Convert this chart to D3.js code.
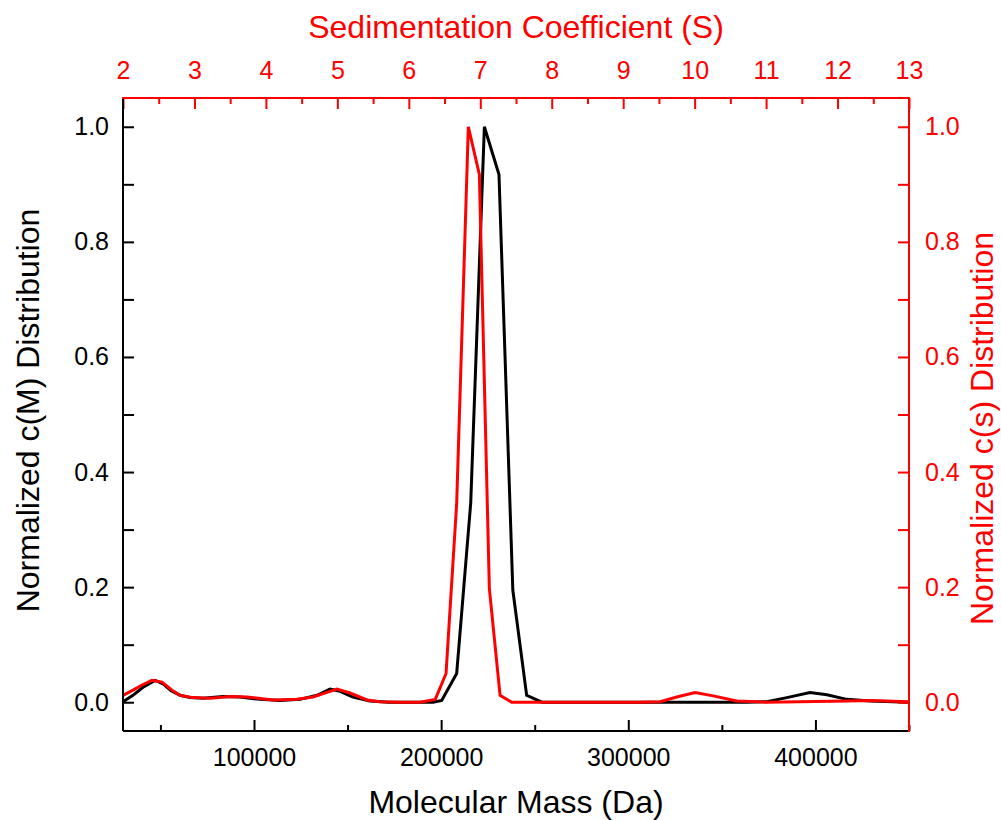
<!DOCTYPE html>
<html>
<head>
<meta charset="utf-8">
<script src="https://cdn.jsdelivr.net/npm/d3@7"></script>
<style>
  html, body { margin: 0; padding: 0; background: #fff; }
  svg { display: block; font-family: "Liberation Sans", Arial, sans-serif; }
</style>
</head>
<body>
<div id="chart"></div>
<script>
// c(M): molecular mass (Da) vs normalized distribution
const massValues = [30000, 35300, 40700, 47100, 51400, 55700, 60500, 65800, 72800, 83400, 92500, 103200,
  113900, 124600, 133700, 140600, 146000, 152900, 162000, 172000, 185000, 195700, 200300, 208300,
  215800, 223100, 230900, 238300, 245700, 253800, 270000, 300000, 330000, 363300, 374000, 384700,
  397100, 406100, 416800, 429200, 449500]
const cmValues = [0.001, 0.012, 0.026, 0.038, 0.032, 0.020, 0.012, 0.008, 0.007, 0.010, 0.009, 0.005,
  0.003, 0.005, 0.012, 0.023, 0.019, 0.009, 0.002, 0.000, 0.000, 0.000, 0.003, 0.050,
  0.346, 1.000, 0.917, 0.195, 0.012, 0.000, 0.000, 0.000, 0.000, 0.000, 0.001, 0.008,
  0.017, 0.013, 0.005, 0.002, 0.000]

// c(s): sedimentation coefficient (S) vs normalized distribution
const sValues = [2.0, 2.14, 2.266, 2.406, 2.546, 2.686, 2.798, 2.98, 3.218, 3.498, 3.736, 4.1,
  4.435, 4.659, 4.855, 4.995, 5.177, 5.415, 5.597, 5.877, 6.157, 6.37, 6.521, 6.67,
  6.833, 6.987, 7.127, 7.277, 7.44, 7.8, 8.5, 9.2, 9.516, 9.75, 10.006, 10.26,
  10.59, 11.01, 12.13, 12.455, 12.99]
const csValues = [0.012, 0.021, 0.030, 0.038, 0.035, 0.021, 0.012, 0.008, 0.007, 0.010, 0.009, 0.004,
  0.005, 0.009, 0.017, 0.023, 0.016, 0.004, 0.001, 0.000, 0.000, 0.005, 0.050, 0.346,
  1.000, 0.917, 0.198, 0.012, 0.000, 0.000, 0.000, 0.000, 0.001, 0.009, 0.017, 0.011,
  0.002, 0.000, 0.002, 0.003, 0.001]

const massTicks = [100000, 200000, 300000, 400000]
const massMinorTicks = [50000, 150000, 250000, 350000, 450000]
const sTicks = [2, 3, 4, 5, 6, 7, 8, 9, 10, 11, 12, 13]
const sMinorTicks = [2.5, 3.5, 4.5, 5.5, 6.5, 7.5, 8.5, 9.5, 10.5, 11.5, 12.5]
const yTicks = [0, 0.2, 0.4, 0.6, 0.8, 1.0]
const yMinorTicks = [0.1, 0.3, 0.5, 0.7, 0.9]

const width = 1001, height = 820
const margin = { top: 98, right: 92, bottom: 89, left: 123 }
const red = '#ff0000'
const titleSize = 32

const xMass = d3.scaleLinear().domain([30000, 450000]).range([margin.left, width - margin.right])
const xS = d3.scaleLinear().domain([2, 13]).range([margin.left, width - margin.right])
const y = d3.scaleLinear().domain([-0.05, 1.05]).range([height - margin.bottom, margin.top])

const plotBottom = height - margin.bottom
const plotTop = margin.top
const plotLeft = margin.left
const plotRight = width - margin.right

const svg = d3.select('#chart').append('svg')
    .attr('width', width)
    .attr('height', height)

// Data lines
const blackLine = d3.line()
    .x((d, i) => xMass(massValues[i]))
    .y(d => y(d))
const redLine = d3.line()
    .x((d, i) => xS(sValues[i]))
    .y(d => y(d))

svg.append('path')
    .datum(cmValues)
    .attr('d', blackLine)
    .attr('fill', 'none')
    .attr('stroke', '#000')
    .attr('stroke-width', 3)

svg.append('path')
    .datum(csValues)
    .attr('d', redLine)
    .attr('fill', 'none')
    .attr('stroke', red)
    .attr('stroke-width', 3)

// Axes (ticks pointing inward)
function styleAxis(g, color, fontSize) {
    g.select('.domain').remove()
    g.selectAll('line').attr('stroke', color).attr('stroke-width', 2)
    g.selectAll('text').attr('fill', color).attr('font-size', fontSize)
}

svg.append('g')
    .attr('transform', `translate(0,${plotBottom})`)
    .call(d3.axisBottom(xMass).tickValues(massMinorTicks).tickSize(-6).tickFormat(''))
    .call(g => styleAxis(g, '#000', 25))
svg.append('g')
    .attr('transform', `translate(0,${plotBottom})`)
    .call(d3.axisBottom(xMass).tickValues(massTicks).tickSize(-11).tickPadding(17).tickFormat(d3.format('d')))
    .call(g => styleAxis(g, '#000', 25))

svg.append('g')
    .attr('transform', `translate(0,${plotTop})`)
    .call(d3.axisTop(xS).tickValues(sMinorTicks).tickSize(-6).tickFormat(''))
    .call(g => styleAxis(g, red, 25))
svg.append('g')
    .attr('transform', `translate(0,${plotTop})`)
    .call(d3.axisTop(xS).tickValues(sTicks).tickSize(-11).tickPadding(19).tickFormat(d3.format('d')))
    .call(g => styleAxis(g, red, 25))

svg.append('g')
    .attr('transform', `translate(${plotLeft},0)`)
    .call(d3.axisLeft(y).tickValues(yMinorTicks).tickSize(-11).tickFormat(''))
    .call(g => styleAxis(g, '#000', 25))
svg.append('g')
    .attr('transform', `translate(${plotLeft},0)`)
    .call(d3.axisLeft(y).tickValues(yTicks).tickSize(-11).tickPadding(14).tickFormat(d3.format('.1f')))
    .call(g => styleAxis(g, '#000', 25))

svg.append('g')
    .attr('transform', `translate(${plotRight},0)`)
    .call(d3.axisRight(y).tickValues(yMinorTicks).tickSize(-11).tickFormat(''))
    .call(g => styleAxis(g, red, 25))
svg.append('g')
    .attr('transform', `translate(${plotRight},0)`)
    .call(d3.axisRight(y).tickValues(yTicks).tickSize(-11).tickPadding(16).tickFormat(d3.format('.1f')))
    .call(g => styleAxis(g, red, 25))

// Frame lines
svg.append('line').attr('x1', plotLeft).attr('x2', plotRight).attr('y1', plotBottom).attr('y2', plotBottom)
    .attr('stroke', '#000').attr('stroke-width', 2)
svg.append('line').attr('x1', plotLeft).attr('x2', plotLeft).attr('y1', plotTop).attr('y2', plotBottom)
    .attr('stroke', '#000').attr('stroke-width', 2)
svg.append('line').attr('x1', plotLeft - 1).attr('x2', plotRight).attr('y1', plotTop).attr('y2', plotTop)
    .attr('stroke', red).attr('stroke-width', 2)
svg.append('line').attr('x1', plotRight).attr('x2', plotRight).attr('y1', plotTop - 1).attr('y2', plotBottom + 1)
    .attr('stroke', red).attr('stroke-width', 2)

// Axis titles
svg.append('text')
    .attr('x', (plotLeft + plotRight) / 2).attr('y', 813)
    .attr('text-anchor', 'middle').attr('font-size', titleSize).attr('fill', '#000')
    .text('Molecular Mass (Da)')
svg.append('text')
    .attr('x', (plotLeft + plotRight) / 2).attr('y', 38)
    .attr('text-anchor', 'middle').attr('font-size', titleSize).attr('fill', red)
    .text('Sedimentation Coefficient (S)')
svg.append('text')
    .attr('transform', `translate(39,${(plotTop + plotBottom) / 2 - 4}) rotate(-90)`)
    .attr('text-anchor', 'middle').attr('font-size', titleSize).attr('fill', '#000')
    .text('Normalized c(M) Distribution')
svg.append('text')
    .attr('transform', `translate(993,${(plotTop + plotBottom) / 2 + 14}) rotate(-90)`)
    .attr('text-anchor', 'middle').attr('font-size', titleSize).attr('fill', red)
    .text('Normalized c(s) Distribution')
</script>
</body>
</html>
